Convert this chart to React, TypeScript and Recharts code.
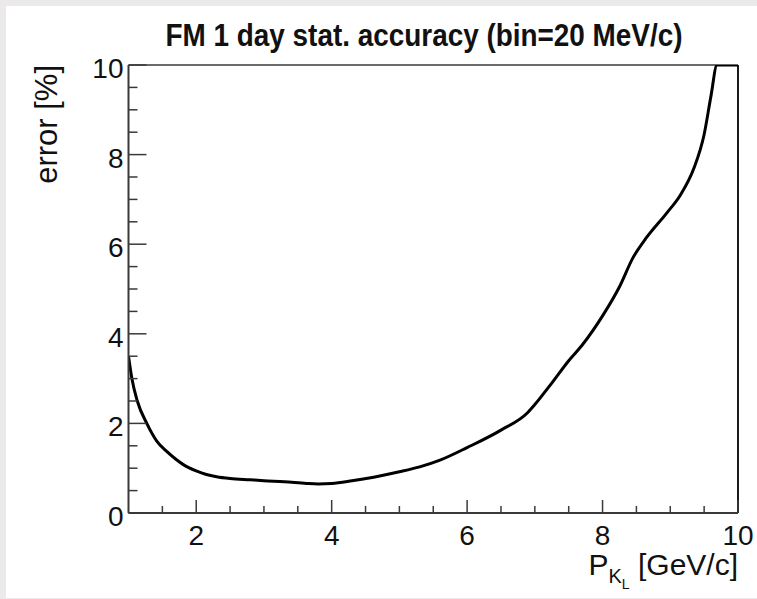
import React from "react";
import { LineChart, Line, XAxis, YAxis, ReferenceLine, Label } from "recharts";

// momentum P_KL [GeV/c]
const momentum = [
  1.0, 1.05, 1.13, 1.27, 1.42, 1.56, 1.7, 1.81, 2.0, 2.15, 2.3, 2.5, 2.8, 3.0,
  3.3, 3.63, 3.8, 4.0, 4.3, 4.62, 5.0, 5.3, 5.6, 6.0, 6.5, 6.9, 7.0, 7.25, 7.5,
  7.7, 8.0, 8.25, 8.45, 8.65, 8.95, 9.15, 9.35, 9.5, 9.6, 9.69, 10.0,
];
// statistical error [%]
const errorPct = [
  3.5, 3.0, 2.5, 2.0, 1.6, 1.38, 1.2, 1.08, 0.94, 0.86, 0.81, 0.77, 0.74, 0.72,
  0.7, 0.66, 0.65, 0.66, 0.72, 0.8, 0.92, 1.03, 1.18, 1.46, 1.85, 2.25, 2.42,
  2.9, 3.4, 3.75, 4.4, 5.05, 5.7, 6.15, 6.7, 7.1, 7.7, 8.45, 9.3, 10.0, 10.0,
];

const xMajorTicks = [2, 4, 6, 8, 10];
const xMinorTicks = [1.5, 2.5, 3, 3.5, 4.5, 5, 5.5, 6.5, 7, 7.5, 8.5, 9, 9.5];
const yMajorTicks = [0, 2, 4, 6, 8, 10];
const yMinorTicks = [0.5, 1, 1.5, 2.5, 3, 3.5, 4.5, 5, 5.5, 6.5, 7, 7.5, 8.5, 9, 9.5];

const data = momentum.map((p, i) => ({ p, err: errorPct[i] }));
const xTicks = [...xMajorTicks, ...xMinorTicks].sort((a, b) => a - b);
const yTicks = [...yMajorTicks, ...yMinorTicks].sort((a, b) => a - b);

const FONT = "'Liberation Sans', Arial, Helvetica, sans-serif";
const AXIS = "#3a3a3a";

const XTick = (props: any) => {
  const { x, y, payload } = props;
  const v = payload.value;
  const major = xMajorTicks.includes(v);
  return (
    <g>
      <line x1={x} x2={x} y1={y} y2={y - (major ? 13 : 7)} stroke={AXIS} strokeWidth={1.5} />
      {major && (
        <text x={x} y={y + 32} textAnchor="middle" fontSize={28} fontFamily={FONT} fill="#111">
          {v}
        </text>
      )}
    </g>
  );
};

const YTick = (props: any) => {
  const { x, y, payload } = props;
  const v = payload.value;
  const major = yMajorTicks.includes(v);
  return (
    <g>
      <line x1={x} x2={x + (major ? 18 : 9)} y1={y} y2={y} stroke={AXIS} strokeWidth={1.5} />
      {major && (
        <text x={x - 5} y={y + 13} textAnchor="end" fontSize={28} fontFamily={FONT} fill="#111">
          {v}
        </text>
      )}
    </g>
  );
};

export default function App() {
  return (
    <div
      style={{
        position: "absolute",
        left: 0,
        top: 0,
        width: 757,
        height: 599,
        background: "#ebe9ea",
      }}
    >
      <div
        style={{
          position: "absolute",
          left: 6,
          top: 6,
          width: 751,
          height: 592,
          background: "#ffffff",
        }}
      />
      <div style={{ position: "absolute", left: 0, top: 0 }}>
        <LineChart
          width={757}
          height={599}
          data={data}
          margin={{ left: 118.5, right: 19, top: 65, bottom: 76 }}
        >
          <XAxis
            dataKey="p"
            type="number"
            domain={[1, 10]}
            ticks={xTicks}
            interval={0}
            height={10}
            tickSize={0}
            tickMargin={0}
            tick={<XTick />}
            axisLine={{ stroke: AXIS, strokeWidth: 2 }}
            tickLine={false}
            allowDataOverflow
          >
            <Label
              content={() => (
                <text x={738} y={575} textAnchor="end" fontFamily={FONT} fill="#111" fontSize={30}>
                  P
                  <tspan fontSize={20} dy={8}>K</tspan>
                  <tspan fontSize={14} dy={6}>L</tspan>
                  <tspan fontSize={30} dy={-14}>{"  [GeV/c]"}</tspan>
                </text>
              )}
            />
          </XAxis>
          <YAxis
            type="number"
            domain={[0, 10]}
            ticks={yTicks}
            interval={0}
            width={10}
            tickSize={0}
            tickMargin={0}
            tick={<YTick />}
            axisLine={{ stroke: AXIS, strokeWidth: 2 }}
            tickLine={false}
            allowDataOverflow
          >
            <Label
              content={() => (
                <g>
                  <text
                    transform="translate(424,46) scale(0.9,1)"
                    textAnchor="middle"
                    fontFamily={FONT}
                    fontWeight="bold"
                    fontSize={31}
                    fill="#111"
                  >
                    FM 1 day stat. accuracy (bin=20 MeV/c)
                  </text>
                  <text
                    transform="translate(57,65) rotate(-90)"
                    textAnchor="end"
                    fontFamily={FONT}
                    fontSize={31}
                    fill="#111"
                  >
                    error [%]
                  </text>
                </g>
              )}
            />
          </YAxis>
          <ReferenceLine y={10} stroke={AXIS} strokeWidth={1.5} />
          <ReferenceLine x={10} stroke="#000" strokeWidth={1.8} />
          <Line
            type="monotone"
            dataKey="err"
            stroke="#000"
            strokeWidth={3}
            dot={false}
            isAnimationActive={false}
          />
        </LineChart>
      </div>
    </div>
  );
}
